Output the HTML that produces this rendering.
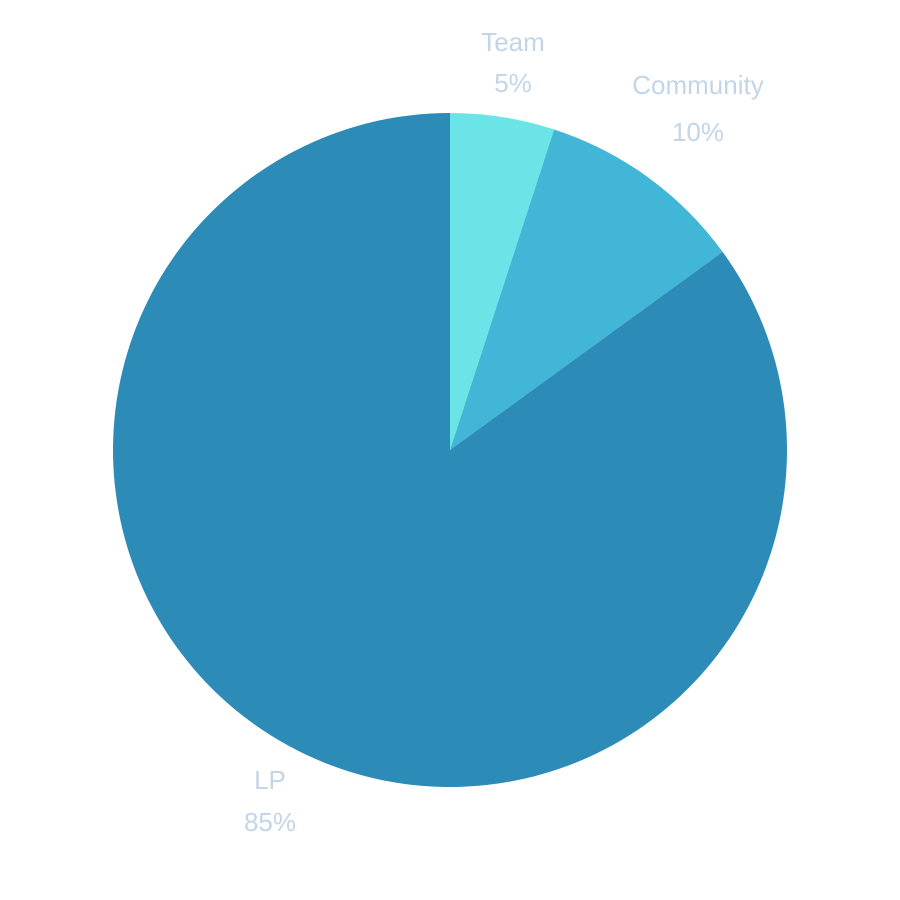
<!DOCTYPE html>
<html><head><meta charset="utf-8"><style>
html,body{margin:0;padding:0;background:#fff;}
svg{display:block;}
text{font-family:"Liberation Sans",sans-serif;fill:#c3d5e7;font-size:26px;text-anchor:middle;}
</style></head><body>
<svg id="chart" width="900" height="900"></svg>
<script>
const categories = ["Team", "Community", "LP"];
const values = [5, 10, 85];
const colors = ["#6ae4e6", "#42b6d6", "#2d8bb8"];
const labelPos = [[513, 42, 83], [698, 85, 132], [270, 780, 822]];
const svg = document.getElementById('chart');
const NS = 'http://www.w3.org/2000/svg';
const cx = 450, cy = 450, r = 337;
const total = values.reduce((a, b) => a + b, 0);
function pt(frac) { const a = frac * 2 * Math.PI - Math.PI / 2; return [cx + r * Math.cos(a), cy + r * Math.sin(a)]; }
let acc = 0;
values.forEach((v, i) => {
  const s = acc / total, e = (acc + v) / total; acc += v;
  const [x1, y1] = pt(s), [x2, y2] = pt(e);
  const large = (e - s) > 0.5 ? 1 : 0;
  const p = document.createElementNS(NS, 'path');
  p.setAttribute('d', `M${cx},${cy} L${x1},${y1} A${r},${r} 0 ${large} 1 ${x2},${y2} Z`);
  p.setAttribute('fill', colors[i]);
  
  
  svg.appendChild(p);
  const t1 = document.createElementNS(NS, 'text');
  t1.setAttribute('x', labelPos[i][0]); t1.setAttribute('y', labelPos[i][1] + 9);
  t1.textContent = categories[i];
  
  
  svg.appendChild(t1);
  const t2 = document.createElementNS(NS, 'text');
  t2.setAttribute('x', labelPos[i][0]); t2.setAttribute('y', labelPos[i][2] + 9);
  t2.textContent = Math.round(v / total * 100) + '%';
  
  
  svg.appendChild(t2);
});
</script>
</body></html>
